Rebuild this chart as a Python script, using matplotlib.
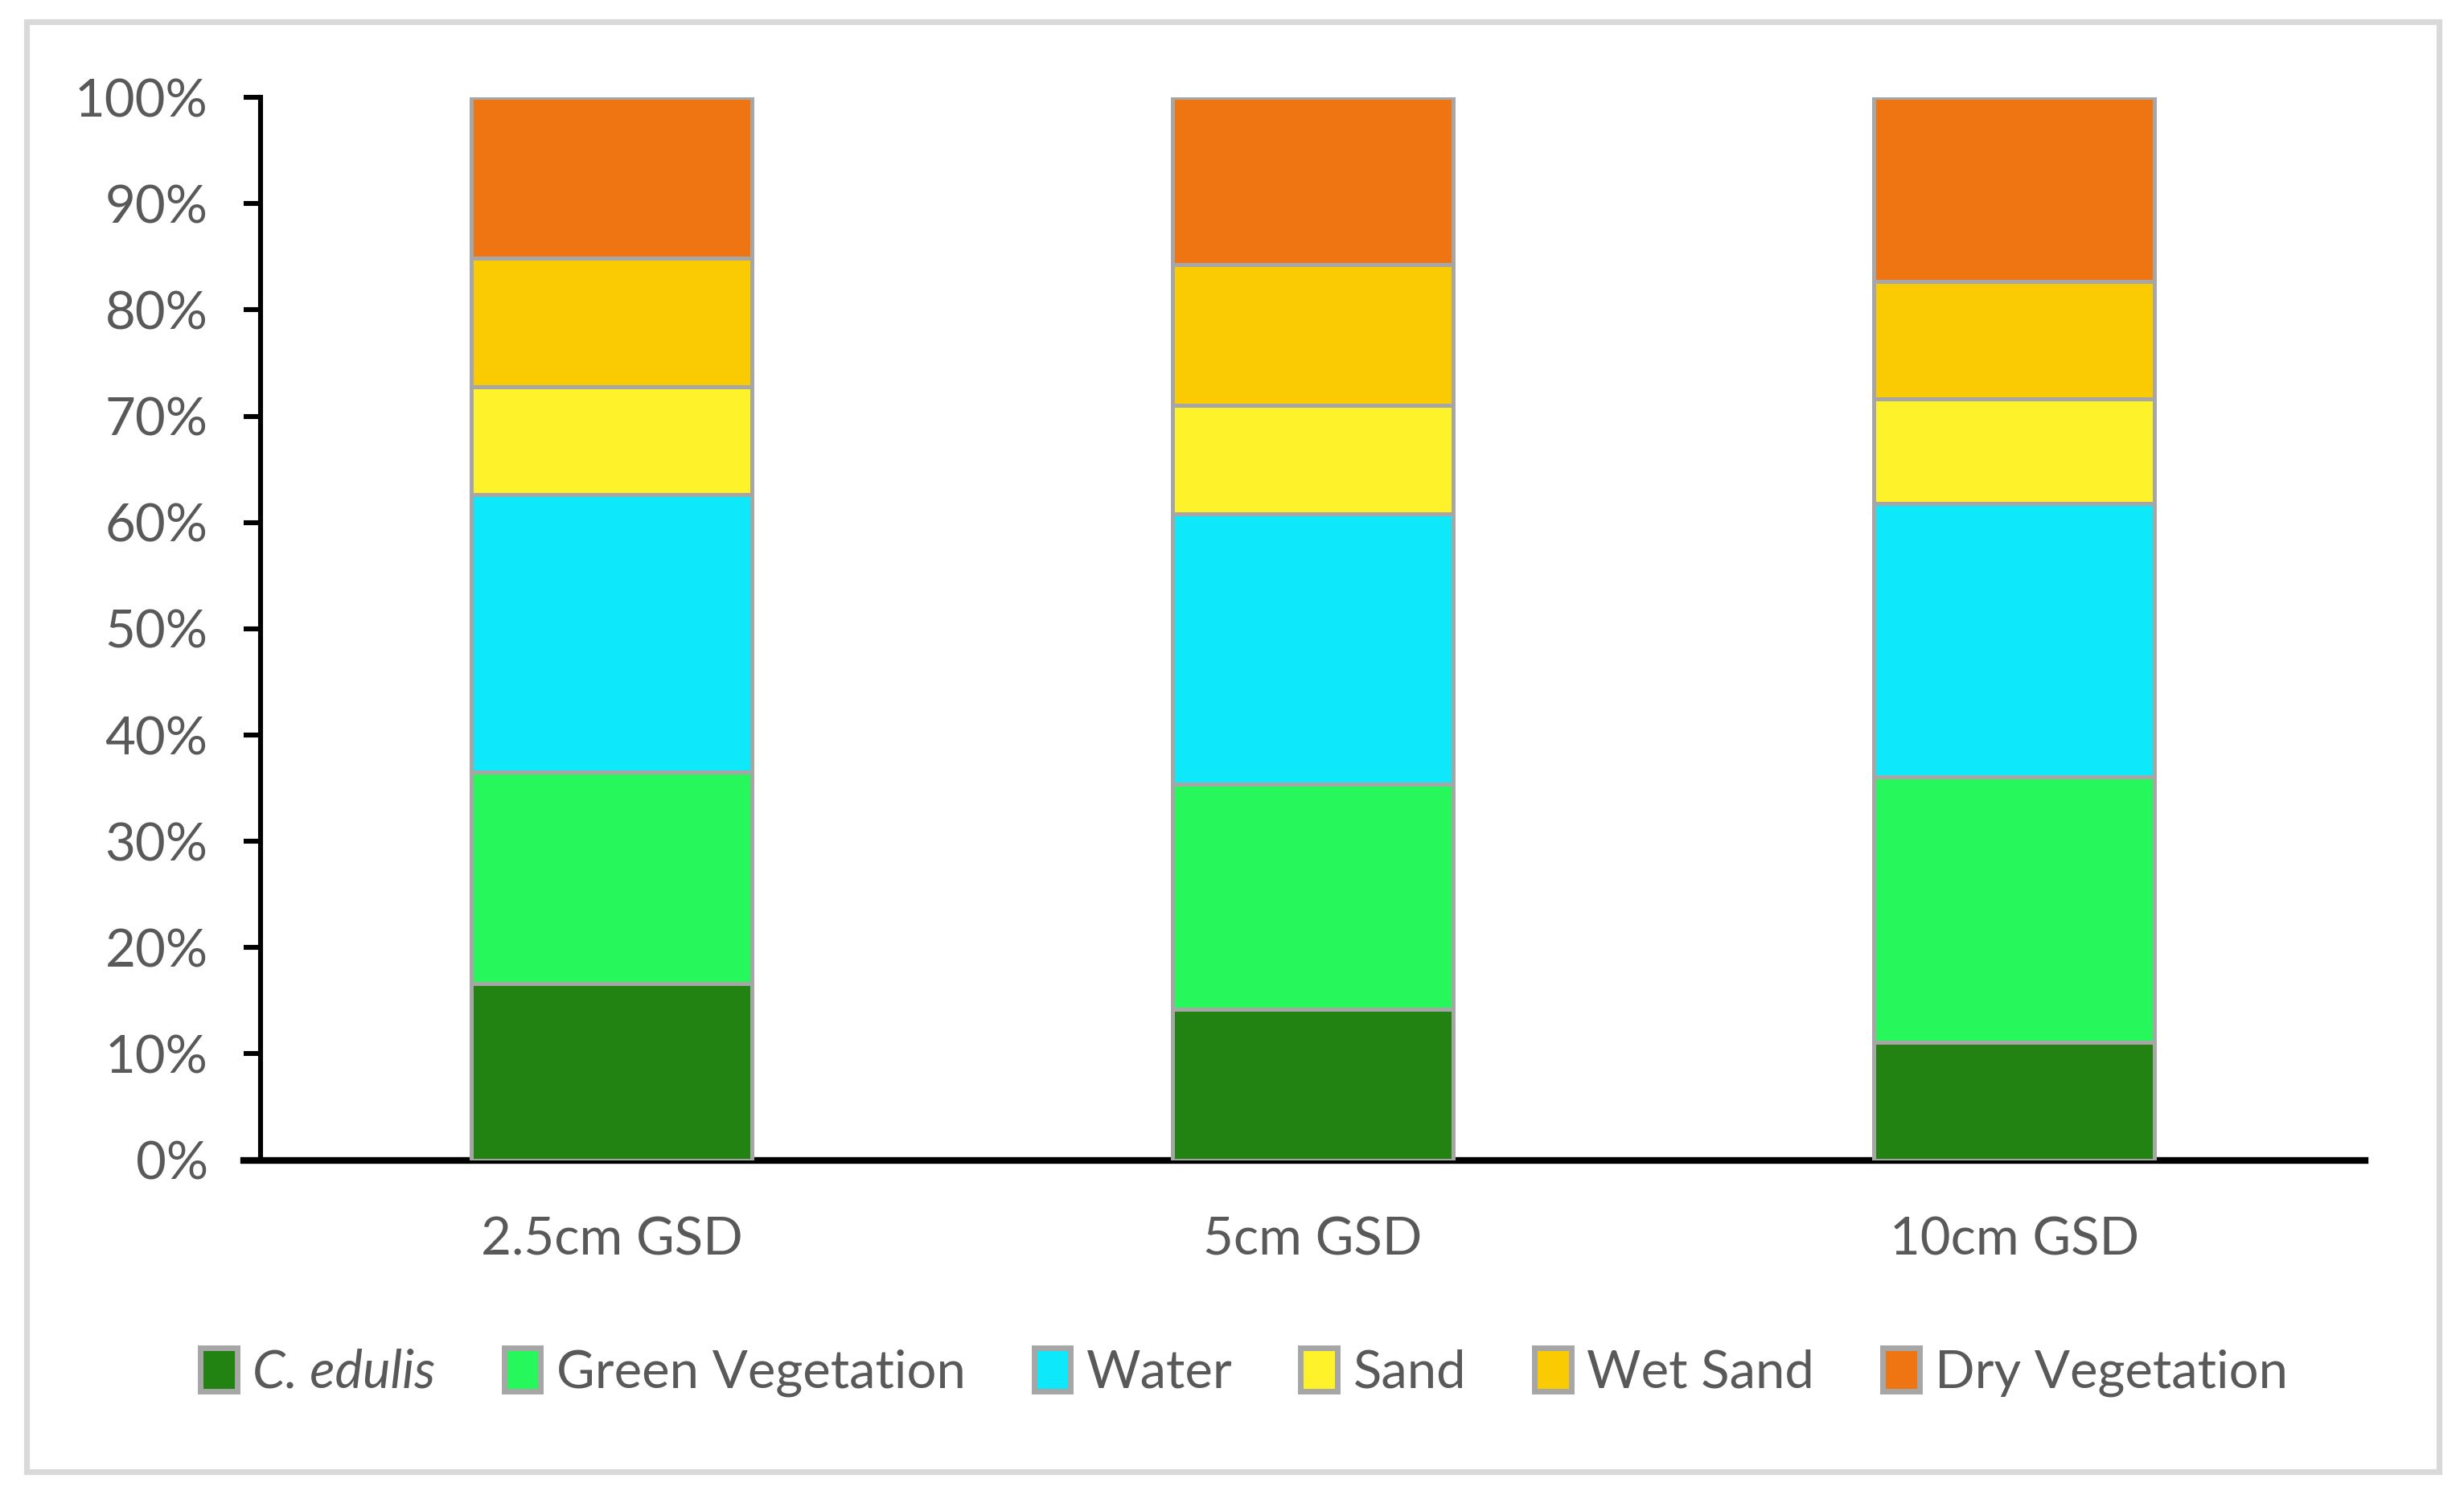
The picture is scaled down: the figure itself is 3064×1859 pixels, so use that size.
import matplotlib
matplotlib.use('Agg')
import matplotlib.pyplot as plt
import numpy as np
from matplotlib.patches import Rectangle

plt.rcParams['font.family'] = ['Lato', 'DejaVu Sans']

# data (percent of area)
categories = ['2.5cm GSD', '5cm GSD', '10cm GSD']
classes = ['C. edulis', 'Green Vegetation', 'Water', 'Sand', 'Wet Sand', 'Dry Vegetation']
c_edulis = [16.6, 14.2, 11.1]
green_veg = [19.9, 21.2, 25.0]
water = [26.1, 25.4, 25.7]
sand = [10.2, 10.2, 9.8]
wet_sand = [12.1, 13.3, 11.1]
dry_veg = [15.1, 15.7, 17.3]
series = [c_edulis, green_veg, water, sand, wet_sand, dry_veg]
colors = ['#228212', '#26F75A', '#0DE8FB', '#FEF22B', '#FACB02', '#EF7412']

text_col = '#595959'
edge_col = '#A6A6A6'

fig = plt.figure(figsize=(15.32, 9.295), dpi=200)
ax = fig.add_axes([0.1059, 0.224, 0.8539, 0.7108])

x = np.arange(len(categories))
bottom = np.zeros(len(categories))
for vals, name, col in zip(series, classes, colors):
    ax.bar(x, vals, width=0.4, bottom=bottom, color=col, edgecolor=edge_col,
           linewidth=1.8, label=name, zorder=3)
    bottom += np.array(vals)

ax.set_xlim(-0.5, 2.5)
ax.set_ylim(0, 100)
ax.set_yticks(np.arange(0, 101, 10))
ax.set_yticklabels([f'{v}%' for v in range(0, 101, 10)])
ax.set_xticks(x)
ax.set_xticklabels(categories)

for s in ['top', 'right']:
    ax.spines[s].set_visible(False)
ax.spines['left'].set_linewidth(2.2)
ax.spines['bottom'].set_linewidth(3)
ax.spines['bottom'].set_bounds(-0.525, 2.5)

ax.tick_params(axis='y', length=7.7, width=2.2, color='black', pad=16,
               labelsize=23.5, labelcolor=text_col)
ax.tick_params(axis='x', length=0, pad=25, labelsize=23.5, labelcolor=text_col)

leg = fig.legend(loc='center', bbox_to_anchor=(0.505, 0.082), ncol=6, frameon=False,
                 fontsize=23.5, handlelength=0.7, handleheight=0.9, handletextpad=0.3,
                 columnspacing=1.3, labelcolor=text_col)
leg.get_texts()[0].set_fontstyle('italic')
for h in leg.legend_handles:
    h.set_linewidth(2.5)

# light grey frame around the whole chart
fig.patches.append(Rectangle((0.0108, 0.0158), 0.979, 0.9695, transform=fig.transFigure,
                             fill=False, edgecolor='#D9D9D9', linewidth=2.6))

fig.savefig('out.png', dpi=200, facecolor='white')
